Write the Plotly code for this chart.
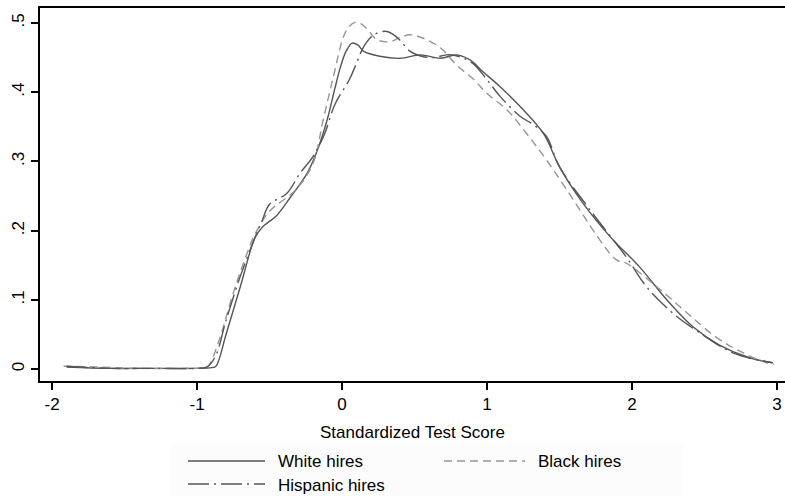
import plotly.graph_objects as go

# ---- data ----
white_x = [-1.9, -1.6, -1.3, -1.0, -0.9, -0.87, -0.8, -0.7, -0.6, -0.55, -0.45, -0.35, -0.24,
           -0.17, -0.1, -0.05, -0.01, 0.03, 0.07, 0.11, 0.15, 0.26, 0.4, 0.54, 0.68, 0.79, 0.88,
           0.97, 1.09, 1.23, 1.39, 1.5, 1.66, 1.85, 2.05, 2.24, 2.42, 2.6, 2.8, 2.97]
white_y = [0.003, 0.001, 0.001, 0.001, 0.002, 0.004, 0.05, 0.12, 0.19, 0.205, 0.222, 0.25, 0.283,
           0.316, 0.362, 0.405, 0.437, 0.46, 0.471, 0.468, 0.459, 0.452, 0.449, 0.454, 0.449, 0.454, 0.447,
           0.43, 0.408, 0.379, 0.34, 0.292, 0.24, 0.191, 0.148, 0.1, 0.061, 0.035, 0.017, 0.009]

black_x = [-1.92, -1.7, -1.4, -1.1, -0.95, -0.92, -0.85, -0.75, -0.65, -0.6, -0.5, -0.4, -0.31,
           -0.2, -0.13, -0.06, 0.01, 0.05, 0.09, 0.13, 0.17, 0.24, 0.33, 0.4, 0.47, 0.56, 0.68,
           0.79, 0.91, 1.0, 1.14, 1.27, 1.4, 1.55, 1.78, 1.89, 1.96, 2.17, 2.38, 2.58, 2.75, 2.93, 2.98]
black_y = [0.004, 0.003, 0.001, 0.001, 0.002, 0.005, 0.04, 0.11, 0.17, 0.195, 0.228, 0.245, 0.261,
           0.297, 0.36, 0.422, 0.48, 0.495, 0.501, 0.499, 0.492, 0.476, 0.473, 0.479, 0.483, 0.478, 0.464,
           0.439, 0.418, 0.398, 0.374, 0.341, 0.305, 0.259, 0.186, 0.158, 0.153, 0.119, 0.081, 0.046, 0.025, 0.009, 0.007]

hisp_x = [-1.9, -1.6, -1.3, -1.0, -0.93, -0.87, -0.8, -0.7, -0.6, -0.55, -0.5, -0.38, -0.29,
          -0.2, -0.12, -0.05, 0.05, 0.1, 0.15, 0.22, 0.3, 0.35, 0.4, 0.47, 0.55, 0.63, 0.72,
          0.8, 0.9, 1.0, 1.09, 1.23, 1.32, 1.41, 1.5, 1.71, 1.96, 2.1, 2.28, 2.47, 2.7, 2.97]
hisp_y = [0.004, 0.001, 0.001, 0.001, 0.003, 0.02, 0.07, 0.135, 0.19, 0.215, 0.238, 0.254, 0.283,
          0.307, 0.34, 0.382, 0.418, 0.442, 0.466, 0.483, 0.488, 0.484, 0.475, 0.459, 0.452, 0.45, 0.454,
          0.452, 0.442, 0.418, 0.394, 0.365, 0.353, 0.336, 0.292, 0.23, 0.162, 0.119, 0.081, 0.052, 0.023, 0.009]

x_ticks = [-2, -1, 0, 1, 2, 3]
x_tick_text = ["-2", "-1", "0", "1", "2", "3"]
y_ticks = [0, 0.1, 0.2, 0.3, 0.4, 0.5]
y_tick_text = ["0", ".1", ".2", ".3", ".4", ".5"]

series_names = ["White hires", "Black hires", "Hispanic hires"]
x_title = "Standardized Test Score"

# ---- styles ----
FONT = "Liberation Sans, Arial, sans-serif"
styles = [
    dict(color="#555555", width=1.4, dash="solid"),
    dict(color="#969696", width=1.4, dash="8px,5px"),
    dict(color="#555555", width=1.4, dash="21px,5px,2px,5px"),
]

fig = go.Figure()
for (xs, ys), name, st in zip([(white_x, white_y), (black_x, black_y), (hisp_x, hisp_y)],
                              series_names, styles):
    fig.add_trace(go.Scatter(x=xs, y=ys, mode="lines", name=name, line=st,
                             line_shape="spline", showlegend=False))

W, H = 785, 496
L, R, T, B = 40, 0, 8, 115
pw, ph = W - L - R, H - T - B

def px_to_paper(px, py):
    return (px - L) / pw, (H - B - py) / ph

# manual legend (Stata-style long samples)
shapes = []
annotations = []
x0a, _ = px_to_paper(170, 0)
x1a, _ = px_to_paper(682, 0)
_, ytop = px_to_paper(0, 443)
_, ybot = px_to_paper(0, 496)
shapes.append(dict(type="rect", xref="paper", yref="paper", x0=x0a, x1=x1a, y0=ybot, y1=ytop,
                   fillcolor="#fcfcfc", line=dict(width=0), layer="below"))
legend_pos = [(188, 265, 461), (444, 525, 461), (188, 265, 484)]
for (sx0, sx1, sy), name, st in zip(legend_pos, series_names, styles):
    a0, b0 = px_to_paper(sx0, sy)
    a1, _ = px_to_paper(sx1, sy)
    shapes.append(dict(type="line", xref="paper", yref="paper", x0=a0, x1=a1, y0=b0, y1=b0,
                       line=dict(color=st["color"], width=st["width"], dash=st["dash"])))
    tx, ty = px_to_paper(sx1 + 11, sy + 1)
    annotations.append(dict(text=name, xref="paper", yref="paper", x=tx, y=ty,
                            xanchor="left", yanchor="middle", showarrow=False,
                            font=dict(family=FONT, size=17, color="black")))

fig.update_layout(
    width=W, height=H,
    margin=dict(l=L, r=R, t=T, b=B, pad=0),
    paper_bgcolor="white", plot_bgcolor="white",
    font=dict(family=FONT, size=17, color="black"),
    shapes=shapes, annotations=annotations,
)
fig.update_xaxes(
    range=[-2.083, 3.055], tickvals=x_ticks, ticktext=x_tick_text, ticks="outside",
    ticklen=7, tickwidth=2,
    tickcolor="black", showline=True, linewidth=2, linecolor="black", mirror=True,
    showgrid=False, zeroline=False, automargin=False,
    tickfont=dict(family=FONT, size=17, color="black"),
    title=dict(text=x_title, standoff=13, font=dict(family=FONT, size=17, color="black")),
)
fig.update_yaxes(
    range=[-0.0173, 0.5217], tickvals=y_ticks, ticktext=y_tick_text, ticks="outside",
    ticklen=7, tickwidth=2, tickcolor="black", showline=True, linewidth=2, linecolor="black",
    showgrid=False, zeroline=False, automargin=False, tickangle=-90,
    tickfont=dict(family=FONT, size=17, color="black"),
)

fig.write_html("out.html")
